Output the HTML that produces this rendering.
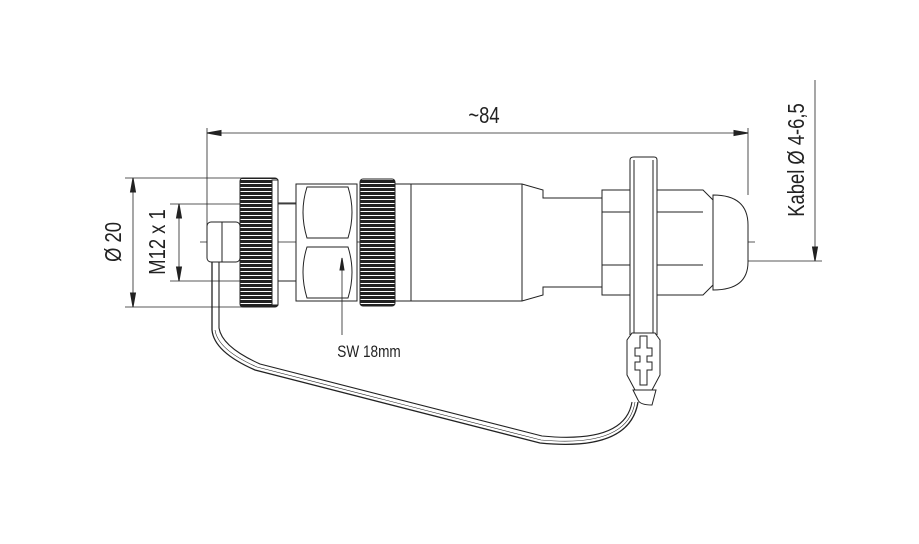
<!DOCTYPE html>
<html><head><style>
html,body{margin:0;padding:0;background:#fff;}
svg{display:block;}
text{font-family:"Liberation Sans",sans-serif;fill:#222;}
</style></head><body>
<svg width="919" height="544" viewBox="0 0 919 544" xmlns="http://www.w3.org/2000/svg">
<defs>
<pattern id="kn" width="30" height="4" patternUnits="userSpaceOnUse"><rect width="30" height="4" fill="#fff"/><rect width="30" height="3" fill="#222"/></pattern>
</defs>
<g stroke="#222" fill="none" stroke-width="1">
<line x1="207" y1="128" x2="207" y2="232" stroke-width="0.8"/>
<line x1="748" y1="128" x2="748" y2="195" stroke-width="0.8"/>
<line x1="207" y1="133" x2="748" y2="133" stroke-width="0.8"/>
<path d="M207,133 l14,-2.5 v5z M748,133 l-14,-2.5 v5z" fill="#222"/>
<line x1="125" y1="178" x2="245" y2="178" stroke-width="0.8"/>
<line x1="125" y1="307" x2="245" y2="307" stroke-width="0.8"/>
<line x1="133" y1="178" x2="133" y2="307" stroke-width="0.8"/>
<path d="M133,178 l-2.5,14 h5z M133,307 l-2.5,-14 h5z" fill="#222"/>
<line x1="170" y1="204" x2="300" y2="204" stroke-width="0.8"/>
<line x1="170" y1="281" x2="300" y2="281" stroke-width="0.8"/>
<line x1="179" y1="204" x2="179" y2="281" stroke-width="0.8"/>
<path d="M179,204 l-2.5,14 h5z M179,281 l-2.5,-14 h5z" fill="#222"/>
<line x1="815" y1="80" x2="815" y2="261" stroke-width="0.8"/>
<line x1="742" y1="261" x2="822" y2="261" stroke-width="0.8"/>
<path d="M815,261 l-2.5,-14 h5z" fill="#222"/>
<line x1="200" y1="242" x2="755" y2="242" stroke-width="0.8" stroke-dasharray="40,6,8,6"/>
<rect x="207" y="222" width="33" height="40" rx="4" fill="#fff"/>
<line x1="222" y1="222" x2="222" y2="262"/>
<rect x="240" y="178" width="38" height="129" rx="3" fill="url(#kn)"/>
<rect x="272" y="180" width="6" height="125" fill="#fff"/>
<line x1="278" y1="203" x2="296" y2="203"/><line x1="278" y1="281" x2="296" y2="281"/>
<rect x="296" y="184" width="61" height="117" fill="#fff"/>
<path d="M307,187 H348 Q356,212 348,238 H307 Q299,212 307,187z"/>
<path d="M307,247 H348 Q356,272 348,298 H307 Q299,272 307,247z"/>
<line x1="342" y1="258" x2="342" y2="335" stroke-width="0.8"/>
<path d="M342,258 l-2,12 h4z" fill="#222"/>
<rect x="360" y="179" width="35" height="127" rx="3" fill="url(#kn)"/>
<rect x="395" y="184" width="16" height="117" fill="#fff"/>
<path d="M411,184 H522 L543,190 V198 H602 V287 H543 V295 L522,301 H411z" fill="#fff"/>
<line x1="522" y1="184" x2="522" y2="301"/>
<rect x="602" y="190" width="28" height="105" fill="#fff"/>
<line x1="602" y1="212" x2="630" y2="212"/><line x1="602" y1="265" x2="630" y2="265"/>
<path d="M657,190 H703 L713,200 V285 L703,295 H657z" fill="#fff"/>
<line x1="657" y1="212" x2="703" y2="212"/><line x1="657" y1="265" x2="703" y2="265"/>
<path d="M713,195 Q748,195 748,225 V262 Q748,290 713,290z" fill="#fff"/>
<path d="M630,335 V160 Q630,157 634,157 H654 Q657,157 657,160 V335" fill="#fff"/>
<line x1="634" y1="160" x2="634" y2="335"/><line x1="653" y1="160" x2="653" y2="335"/>
<path d="M627,340 L632,333 H655 L660,340 V375 L652,390 H635 L627,375z" fill="#fff"/>
<path d="M640,336 H647 V348 H652 V356 H647 V362 H652 V370 H647 V385 H640 V370 H635 V362 H640 V356 H635 V348 H640z"/>
<path d="M633,390 H656 L652,405 Q640,405 638,400z"/>
<path d="M212,262 V330 Q214,352 255,370 L540,443 Q630,452 638,402" stroke-width="1.3"/>
<path d="M219,262 V328 Q222,347 260,364 L542,436 Q625,444 632,402" stroke-width="1.1"/>
<path d="M215,330 Q218,350 257,367 L541,440 Q628,448 635,402" stroke-width="0.6"/>
</g>
<text transform="translate(484,123) scale(0.8,1)" font-size="23" text-anchor="middle">~84</text>
<text transform="translate(369,357) scale(0.8,1)" font-size="17" text-anchor="middle">SW 18mm</text>
<text transform="translate(121,242) rotate(-90) scale(0.8,1)" font-size="23" text-anchor="middle">Ø 20</text>
<text transform="translate(165,242) rotate(-90) scale(0.8,1)" font-size="23" text-anchor="middle">M12 x 1</text>
<text transform="translate(804,160) rotate(-90) scale(0.8,1)" font-size="23" text-anchor="middle">Kabel Ø 4-6,5</text>
</svg>
</body></html>
